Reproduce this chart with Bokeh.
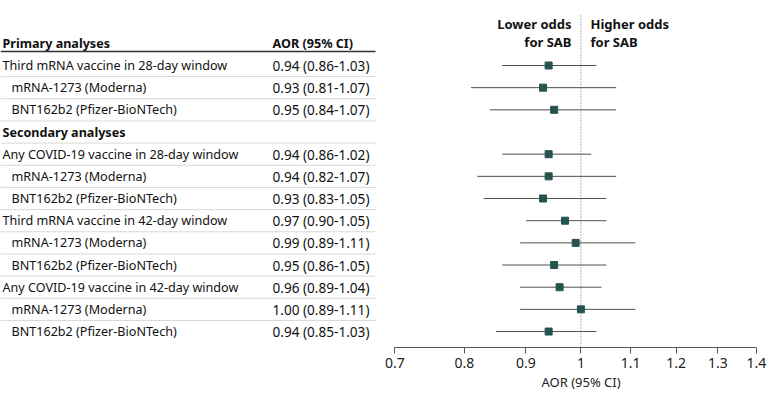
import math
from bokeh.plotting import figure
from bokeh.models import Range1d, LogScale, LogAxis, FixedTicker, CustomJSTickFormatter, ColumnDataSource, Title
from bokeh.core.properties import value
from bokeh.embed import file_html
from bokeh.resources import INLINE

# ---------------- data ----------------
labels = [
    "Third mRNA vaccine in 28-day window",
    "mRNA-1273 (Moderna)",
    "BNT162b2 (Pfizer-BioNTech)",
    "Any COVID-19 vaccine in 28-day window",
    "mRNA-1273 (Moderna)",
    "BNT162b2 (Pfizer-BioNTech)",
    "Third mRNA vaccine in 42-day window",
    "mRNA-1273 (Moderna)",
    "BNT162b2 (Pfizer-BioNTech)",
    "Any COVID-19 vaccine in 42-day window",
    "mRNA-1273 (Moderna)",
    "BNT162b2 (Pfizer-BioNTech)",
]
indented = [False, True, True, False, True, True, False, True, True, False, True, True]
aor = [0.94, 0.93, 0.95, 0.94, 0.94, 0.93, 0.97, 0.99, 0.95, 0.96, 1.00, 0.94]
ci_low = [0.86, 0.81, 0.84, 0.86, 0.82, 0.83, 0.90, 0.89, 0.86, 0.89, 0.89, 0.85]
ci_high = [1.03, 1.07, 1.07, 1.02, 1.07, 1.05, 1.05, 1.11, 1.05, 1.04, 1.11, 1.03]
section_titles = ["Primary analyses", "Secondary analyses"]
tick_values = [0.7, 0.8, 0.9, 1.0, 1.1, 1.2, 1.3, 1.4]
ref_value = 1.0

# ---------------- layout ----------------
FONT = "Noto Sans"
FS = "12.6px"
FS_NUM = "13.6px"
FW, FH = 772, 347
row0_px, row_step = 65.0, 22.17
row_index = [0, 1, 2] + list(range(4, 13))
section_rows = [-1, 3]

y_top = -row0_px / row_step
y_bottom = (FH - row0_px) / row_step

def row_at(px):
    return (px - row0_px) / row_step

# log range so that 0.7 -> px 394.3 and 1.4 -> px 756
px_lo, px_hi = 394.3, 756.0
k = (px_hi - px_lo) / math.log(tick_values[-1] / tick_values[0])
log_start = tick_values[0] * math.exp(-px_lo / k)
log_end = tick_values[-1] * math.exp((FW - px_hi) / k)

p = figure(
    frame_width=FW, frame_height=FH,
    x_range=Range1d(0, FW), y_range=Range1d(y_bottom, y_top),
    x_axis_type=None, y_axis_type=None,
    output_backend="svg", toolbar_location=None,
    min_border_left=0, min_border_right=0, min_border_top=0, min_border_bottom=0,
)
p.extra_x_ranges = {"log": Range1d(log_start, log_end)}
p.extra_x_scales = {"log": LogScale()}
p.outline_line_color = None
p.xgrid.visible = False
p.ygrid.visible = False
p.background_fill_color = "white"
p.border_fill_color = "white"

# separators
sep_y = [r + 0.5 for r in range(0, 12)]
p.segment(x0=[0] * len(sep_y), x1=[375] * len(sep_y), y0=sep_y, y1=sep_y,
          line_color="#d9d9d2", line_width=1)
p.segment(x0=[0], x1=[375], y0=[row_at(51)], y1=[row_at(51)], line_color="#333333", line_width=1.5)

# table text
lab_x = [11 if ind else 2 for ind in indented]
ci_txt = [f"{a:.2f} ({l:.2f}-{h:.2f})" for a, l, h in zip(aor, ci_low, ci_high)]
src = ColumnDataSource(dict(x=lab_x, y=row_index, t=labels, ci=ci_txt, aor=aor, lo=ci_low, hi=ci_high))
p.text(x="x", y="y", text="t", source=src, text_font=value(FONT), text_font_size=FS,
       text_baseline="middle", text_color="#111111")
p.text(x=272, y="y", text="ci", source=src, text_font=value(FONT), text_font_size=FS_NUM,
       text_baseline="middle", text_color="#111111")
p.text(x=[2, 2], y=section_rows, text=section_titles, text_font=value(FONT), text_font_size=FS,
       text_font_style="bold", text_baseline="middle", text_color="#111111")
p.text(x=[272], y=[-1], text=["AOR (95% CI)"], text_font=value(FONT), text_font_size=FS,
       text_font_style="bold", text_baseline="middle", text_color="#111111")

# direction labels
dir_y = [row_at(23), row_at(41)]
p.text(x=[571, 571], y=dir_y, text=["Lower odds", "for SAB"], text_font=value(FONT),
       text_font_size="13px", text_font_style="bold", text_align="right", text_baseline="middle",
       text_color="#111111")
p.text(x=[590, 590], y=dir_y, text=["Higher odds", "for SAB"], text_font=value(FONT),
       text_font_size="13px", text_font_style="bold", text_align="left", text_baseline="middle",
       text_color="#111111")

# reference line
p.segment(x0=[ref_value], x1=[ref_value], y0=[row_at(15)], y1=[y_bottom], x_range_name="log",
          line_color="#666666", line_dash="1 2", line_width=1)

# forest plot
p.segment(x0="lo", x1="hi", y0="y", y1="y", source=src, x_range_name="log",
          line_color="#505050", line_width=1)
p.scatter(x="aor", y="y", source=src, x_range_name="log", marker="square", size=7,
          fill_color="#25534f", line_color="#25534f")

ax = LogAxis(x_range_name="log", ticker=FixedTicker(ticks=tick_values), bounds=(tick_values[0], tick_values[-1]))
ax.formatter = CustomJSTickFormatter(code="return String(Math.round(tick*10)/10);")
ax.axis_line_color = "#555555"
ax.major_tick_line_color = "#555555"
ax.major_tick_out = 6
ax.major_tick_in = 0
ax.minor_tick_out = 0
ax.minor_tick_in = 0
ax.major_label_standoff = 4
ax.major_label_text_font = FONT
ax.major_label_text_font_size = "14px"
ax.major_label_text_color = "#222222"
p.add_layout(ax, "below")

xt = Title(text="AOR (95% CI)", align="left", offset=541, text_font=FONT, text_font_size="13px",
           text_font_style="normal", text_color="#222222", standoff=0)
p.add_layout(xt, "below")

open("out.html", "w").write(file_html(p, INLINE))
